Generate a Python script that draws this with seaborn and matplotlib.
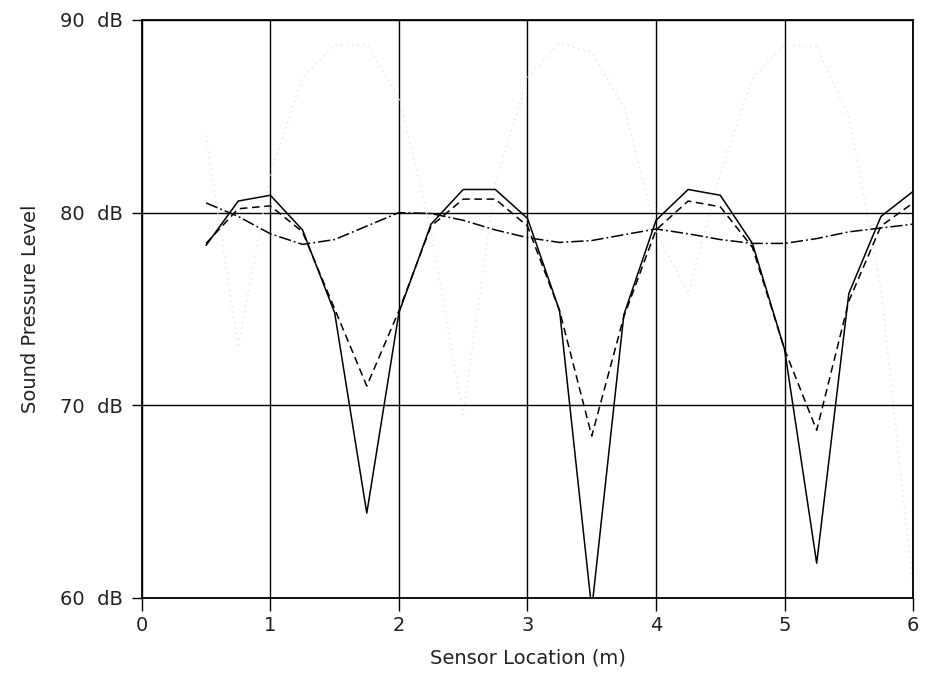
import numpy as np
import pandas as pd

import matplotlib
matplotlib.use("Agg")
import matplotlib.pyplot as plt
import seaborn as sns

# sensor positions (m)
location = [0.5, 0.75, 1.0, 1.25, 1.5, 1.75, 2.0, 2.25, 2.5, 2.75, 3.0, 3.25,
            3.5, 3.75, 4.0, 4.25, 4.5, 4.75, 5.0, 5.25, 5.5, 5.75, 6.0]

# sound pressure level curves (dB)
spl_solid = [78.3, 80.6, 80.9, 79.1, 74.8, 64.4, 74.8, 79.4, 81.2, 81.2, 79.7, 74.9,
             59.4, 74.7, 79.6, 81.2, 80.9, 78.4, 72.9, 61.8, 75.8, 79.8, 81.1]

spl_dashed = [78.4, 80.2, 80.35, 79.0, 75.0, 71.0, 74.9, 79.3, 80.7, 80.7, 79.3, 74.9,
              68.4, 74.6, 79.1, 80.6, 80.3, 78.2, 72.9, 68.7, 75.4, 79.3, 80.5]

spl_dashdot = [80.5, 79.8, 78.9, 78.35, 78.6, 79.3, 80.0, 79.95, 79.6, 79.1, 78.7, 78.45,
               78.55, 78.85, 79.15, 78.9, 78.6, 78.4, 78.4, 78.65, 79.0, 79.2, 79.4]

# very faint dotted trace in the scan
spl_faint = [84.0, 73.0, 82.0, 87.0, 88.7, 88.7, 86.0, 79.0, 69.5, 81.5, 87.0, 88.8,
             88.3, 85.5, 79.0, 75.8, 82.0, 87.0, 88.7, 88.6, 85.0, 76.0, 60.5]

x_ticks = [0, 1, 2, 3, 4, 5, 6]
y_ticks = [60, 70, 80, 90]
y_tick_labels = ["60  dB", "70  dB", "80  dB", "90  dB"]

df = pd.DataFrame({
    "location": location,
    "solid": spl_solid,
    "dashed": spl_dashed,
    "dashdot": spl_dashdot,
    "faint": spl_faint,
})

sns.set_style("ticks")
plt.rcParams["font.family"] = ["DejaVu Sans"]

fig, ax = plt.subplots(figsize=(9.27, 6.88), dpi=100)
fig.subplots_adjust(left=0.153, right=0.985, top=0.971, bottom=0.131)

sns.lineplot(data=df, x="location", y="faint", ax=ax,
             color="#e2e2e2", linewidth=1.0, linestyle=(0, (1, 3)))

sns.lineplot(data=df, x="location", y="dashdot", ax=ax,
             color="black", linewidth=1.1, linestyle=(0, (8, 2, 1.2, 2)))

sns.lineplot(data=df, x="location", y="dashed", ax=ax,
             color="black", linewidth=1.1, linestyle=(0, (5, 3)))

sns.lineplot(data=df, x="location", y="solid", ax=ax,
             color="black", linewidth=1.1)

ax.set_xlim(0, 6)
ax.set_ylim(60, 90)

ax.set_xticks(x_ticks)
ax.set_yticks(y_ticks)
ax.set_yticklabels(y_tick_labels)

ax.grid(True, color="black", linewidth=1.0)
ax.set_axisbelow(True)

for side in ["top", "right", "bottom", "left"]:
    ax.spines[side].set_visible(True)
    ax.spines[side].set_color("black")
    ax.spines[side].set_linewidth(1.3)

ax.tick_params(axis="x", direction="out", length=9, width=1.0,
               color="black", labelsize=14, pad=4, labelcolor="#222222")
ax.tick_params(axis="y", direction="out", length=7, width=1.0,
               color="black", labelsize=14, pad=7, labelcolor="#222222")

ax.set_xlabel("Sensor Location (m)", fontsize=14, color="#222222", labelpad=10)
ax.set_ylabel("Sound Pressure Level", fontsize=14, color="#222222", labelpad=14)

plt.savefig("out.png", dpi=100, facecolor="white")
plt.close()
